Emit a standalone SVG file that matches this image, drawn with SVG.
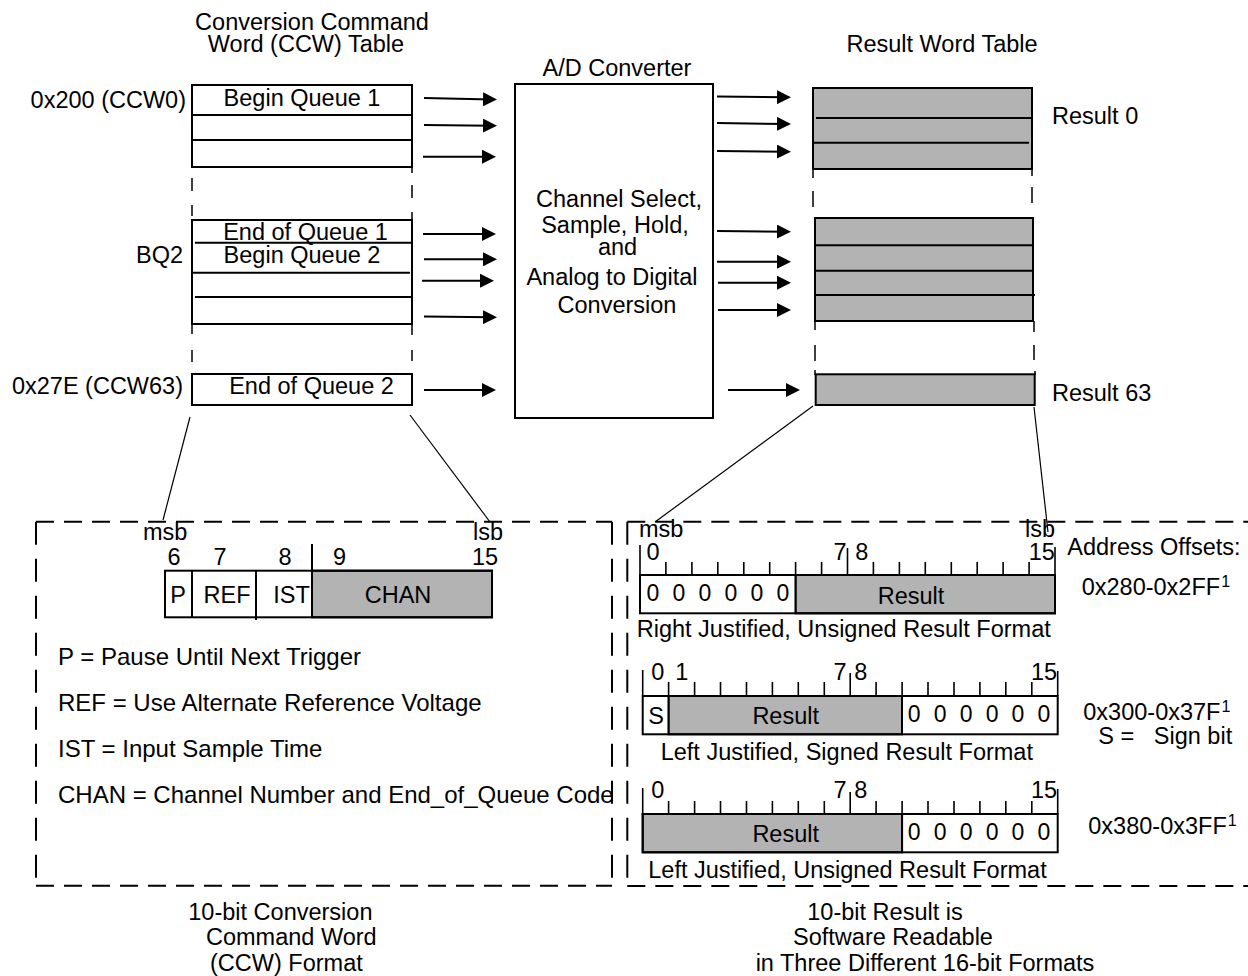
<svg xmlns="http://www.w3.org/2000/svg" width="1248" height="976" viewBox="0 0 1248 976">
<style>
.t{font-family:"Liberation Sans",Arial,sans-serif;font-size:23.5px;fill:#000}
.m{text-anchor:middle}
.e{text-anchor:end}
.z{font-size:23px;letter-spacing:3.4px}
.sup{font-size:16px}
.lg{font-size:24px}
.box{fill:#fff;stroke:#000;stroke-width:2}
.g{fill:#b3b3b3;stroke:#000;stroke-width:2}
.ln{stroke:#000;stroke-width:2;fill:none}
.tk{stroke:#000;stroke-width:1.6;fill:none}
.thin{stroke:#000;stroke-width:1.2;fill:none}
.br{stroke:#000;stroke-width:1.5;fill:none}
.dh{stroke:#000;stroke-width:2;stroke-dasharray:18 10;fill:none}
.dv{stroke:#000;stroke-width:2;stroke-dasharray:23 14;fill:none}
.arr{stroke:#000;stroke-width:2;marker-end:url(#ah)}
</style>
<defs>
<marker id="ah" markerWidth="14" markerHeight="14" refX="9" refY="7" orient="auto" markerUnits="userSpaceOnUse">
<path d="M0,0 L14,7 L0,14 z" fill="#000"/>
</marker>
</defs>
<rect x="0" y="0" width="1248" height="976" fill="#fff"/>

<g id="titles">
<text class="t m" x="312" y="30">Conversion Command</text>
<text class="t m" x="306" y="52">Word (CCW) Table</text>
<text class="t m" x="617" y="76">A/D Converter</text>
<text class="t m" x="942" y="52">Result Word Table</text>
</g>

<g id="ccw-table">
<rect class="box" x="192" y="85" width="220" height="82"/>
<line class="ln" x1="192" y1="115" x2="412" y2="115"/>
<line class="ln" x1="192" y1="140" x2="412" y2="140"/>
<text class="t m" x="302" y="106">Begin Queue 1</text>
<text class="t e" x="186" y="108">0x200 (CCW0)</text>

<rect class="box" x="192" y="220" width="220" height="104"/>
<line class="ln" x1="195" y1="242.7" x2="412" y2="242.7"/>
<line class="ln" x1="192" y1="272.7" x2="410" y2="272.7"/>
<line class="ln" x1="195" y1="297" x2="412" y2="297"/>
<text class="t m" x="305.5" y="239.5">End of Queue 1</text>
<text class="t m" x="302" y="263">Begin Queue 2</text>
<text class="t e" x="183" y="263">BQ2</text>

<rect class="box" x="192" y="374" width="220" height="31"/>
<text class="t m" x="311.5" y="394">End of Queue 2</text>
<text class="t e" x="183" y="394">0x27E (CCW63)</text>

<path class="br" d="M192,178 V191 M192,205 V216 M412,168 V173 M412,185 V198 M412,212 V220 M192,324 V334 M192,350 V362 M412,324 V335 M412,350 V361"/>
</g>

<g id="ad-converter">
<rect class="box" x="515" y="84" width="198" height="334"/>
<text class="t m" x="619" y="207">Channel Select,</text>
<text class="t m" x="615" y="233">Sample, Hold,</text>
<text class="t m" x="617.5" y="255">and</text>
<text class="t m" x="612" y="285">Analog to Digital</text>
<text class="t m" x="617" y="313">Conversion</text>
</g>

<g id="result-table">
<rect class="g" x="813" y="88" width="219" height="81"/>
<line class="ln" x1="816" y1="118" x2="1032" y2="118"/>
<line class="ln" x1="812" y1="142.7" x2="1029" y2="142.7"/>
<rect class="g" x="815" y="218" width="218" height="103"/>
<line class="ln" x1="815" y1="245.3" x2="1033" y2="245.3"/>
<line class="ln" x1="815" y1="270.7" x2="1033" y2="270.7"/>
<line class="ln" x1="815" y1="295" x2="1035" y2="295"/>
<rect class="g" x="815.7" y="374.3" width="219" height="30.7"/>
<text class="t" x="1052" y="124">Result 0</text>
<text class="t" x="1052" y="401">Result 63</text>
<path class="br" d="M813,168 V178 M813,191 V207 M1032,167 V176 M1032,187 V203 M815,321 V330 M815,345 V361 M1034,321 V332 M1034,345 V360 M815,370 V375 M1035,371 V375"/>
</g>

<g id="connectors">
<line class="arr" x1="424" y1="98" x2="492" y2="99.5"/>
<line class="arr" x1="424" y1="125" x2="492" y2="125.7"/>
<line class="arr" x1="423" y1="156.7" x2="491" y2="156.7"/>
<line class="arr" x1="423" y1="234" x2="491" y2="234"/>
<line class="arr" x1="424" y1="259.3" x2="492" y2="259.3"/>
<line class="arr" x1="422" y1="280.7" x2="489" y2="280.7"/>
<line class="arr" x1="424" y1="316.5" x2="492" y2="317.3"/>
<line class="arr" x1="424" y1="390" x2="491" y2="390"/>

<line class="arr" x1="717" y1="96.5" x2="786" y2="97.3"/>
<line class="arr" x1="717" y1="123" x2="786" y2="124"/>
<line class="arr" x1="717" y1="151" x2="786" y2="151.7"/>
<line class="arr" x1="717" y1="231" x2="786" y2="231.7"/>
<line class="arr" x1="717" y1="261.7" x2="786" y2="261.7"/>
<line class="arr" x1="718" y1="282.7" x2="786" y2="282.7"/>
<line class="arr" x1="718" y1="310" x2="786" y2="310"/>
<line class="arr" x1="728" y1="390" x2="795" y2="390"/>

<line class="thin" x1="190" y1="417" x2="163" y2="520"/>
<line class="thin" x1="410" y1="415" x2="490" y2="522"/>
<line class="thin" x1="813" y1="406" x2="655" y2="522"/>
<line class="thin" x1="1034" y1="407" x2="1048" y2="532"/>
</g>

<g id="ccw-format">
<line class="dh" x1="36" y1="521.7" x2="612" y2="521.7"/>
<line class="dh" x1="36" y1="885.7" x2="612" y2="885.7"/>
<line class="dv" x1="36" y1="521.7" x2="36" y2="885.7"/>
<line class="dv" x1="612" y1="521.7" x2="612" y2="885.7"/>

<text class="t" x="143" y="540">msb</text>
<text class="t" x="473" y="540">lsb</text>
<text class="t m" x="174" y="565">6</text>
<text class="t m" x="220" y="565">7</text>
<text class="t m" x="285" y="565">8</text>
<text class="t m" x="339.5" y="565">9</text>
<text class="t m" x="485" y="565">15</text>

<rect class="g" x="312" y="570.7" width="180" height="46.6"/>
<rect class="ln" x="165" y="570.7" width="327" height="46.6"/>
<line class="ln" x1="192" y1="570.7" x2="192" y2="617.3"/>
<line class="ln" x1="256" y1="570.7" x2="256" y2="620"/>
<line class="ln" x1="312" y1="544" x2="312" y2="617.3"/>
<text class="t m" x="178" y="603">P</text>
<text class="t m" x="227" y="603">REF</text>
<text class="t m" x="291.5" y="603">IST</text>
<text class="t m" x="398" y="603">CHAN</text>

<text class="t lg" x="58" y="665">P = Pause Until Next Trigger</text>
<text class="t lg" x="58" y="710.5">REF = Use Alternate Reference Voltage</text>
<text class="t lg" x="58" y="756.5">IST = Input Sample Time</text>
<text class="t lg" x="58" y="802.5">CHAN = Channel Number and End_of_Queue Code</text>
</g>

<g id="result-formats">
<line class="dh" x1="627.3" y1="521.7" x2="1248" y2="521.7"/>
<line class="dh" x1="627.3" y1="886" x2="1248" y2="886"/>
<line class="dv" x1="627.3" y1="521.7" x2="627.3" y2="886"/>

<text class="t" x="639" y="536.7">msb</text>
<text class="t" x="1025" y="536.7">lsb</text>

<!-- format 1 -->
<text class="t m" x="653" y="560">0</text>
<text class="t m" x="840" y="560">7</text>
<text class="t m" x="861.7" y="560">8</text>
<text class="t m" x="1041.7" y="560">15</text>
<rect class="g" x="795.6" y="575" width="259.4" height="38.3"/>
<rect class="ln" x="640" y="575" width="415" height="38.3"/>
<path class="tk" d="M640,545 V575 M665.9,562 V575 M691.9,562 V575 M717.8,562 V575 M743.8,562 V575 M769.7,562 V575 M795.6,562 V613.3 M821.6,562 V575 M847.5,548 V575 M873.4,562 V575 M899.4,562 V575 M925.3,562 V575 M951.3,562 V575 M977.2,562 V575 M1003.1,562 V575 M1029.1,562 V575 M1055,547 V575"/>
<text class="t z" x="646.6" y="601">0 0 0 0 0 0</text>
<text class="t m" x="911" y="603.5">Result</text>
<text class="t" x="636.7" y="637.3">Right Justified, Unsigned Result Format</text>

<!-- format 2 -->
<text class="t m" x="657.7" y="680">0</text>
<text class="t m" x="681.7" y="680">1</text>
<text class="t m" x="840" y="680">7</text>
<text class="t m" x="860.7" y="680">8</text>
<text class="t m" x="1044" y="680">15</text>
<rect class="g" x="668.6" y="696" width="233.4" height="38.3"/>
<rect class="ln" x="642.7" y="696" width="415" height="38.3"/>
<path class="tk" d="M642.7,670 V696 M668.6,682 V734.3 M694.6,682 V696 M720.5,682 V696 M746.5,682 V696 M772.4,682 V696 M798.3,682 V696 M824.3,682 V696 M850.2,673 V696 M876.1,682 V696 M902.1,682 V734.3 M928,682 V696 M954,682 V696 M979.9,682 V696 M1005.8,682 V696 M1031.8,682 V696 M1057.7,671 V696"/>
<text class="t m" x="656" y="724">S</text>
<text class="t m" x="785.7" y="724">Result</text>
<text class="t z" x="907.7" y="722">0 0 0 0 0 0</text>
<text class="t" x="660.7" y="760">Left Justified, Signed Result Format</text>

<!-- format 3 -->
<text class="t m" x="657.7" y="798.3">0</text>
<text class="t m" x="840" y="798.3">7</text>
<text class="t m" x="860.7" y="798.3">8</text>
<text class="t m" x="1044" y="798.3">15</text>
<rect class="g" x="642.7" y="814" width="259.4" height="38.3"/>
<rect class="ln" x="642.7" y="814" width="415" height="38.3"/>
<path class="tk" d="M642.7,788 V814 M668.6,801 V814 M694.6,801 V814 M720.5,801 V814 M746.5,801 V814 M772.4,801 V814 M798.3,801 V814 M824.3,801 V814 M850.2,792 V814 M876.1,801 V814 M902.1,801 V852.3 M928,801 V814 M954,801 V814 M979.9,801 V814 M1005.8,801 V814 M1031.8,801 V814 M1057.7,789 V814"/>
<text class="t m" x="785.7" y="841.7">Result</text>
<text class="t z" x="907.7" y="840">0 0 0 0 0 0</text>
<text class="t" x="648.3" y="878.3">Left Justified, Unsigned Result Format</text>

<text class="t" x="1067.3" y="555">Address Offsets:</text>
<text class="t" x="1081.7" y="595">0x280-0x2FF<tspan class="sup" dx="1" dy="-8">1</tspan></text>
<text class="t" x="1083.3" y="720">0x300-0x37F<tspan class="sup" dx="1" dy="-8">1</tspan></text>
<text class="t" x="1098.3" y="744" xml:space="preserve">S =   Sign bit</text>
<text class="t" x="1088.3" y="834.3">0x380-0x3FF<tspan class="sup" dx="1" dy="-8">1</tspan></text>
</g>

<g id="captions">
<text class="t" x="188.3" y="920">10-bit Conversion</text>
<text class="t" x="206" y="945">Command Word</text>
<text class="t" x="210" y="971">(CCW) Format</text>
<text class="t m" x="885" y="920">10-bit Result is</text>
<text class="t m" x="893" y="945">Software Readable</text>
<text class="t m" x="925" y="971">in Three Different 16-bit Formats</text>
</g>
</svg>
